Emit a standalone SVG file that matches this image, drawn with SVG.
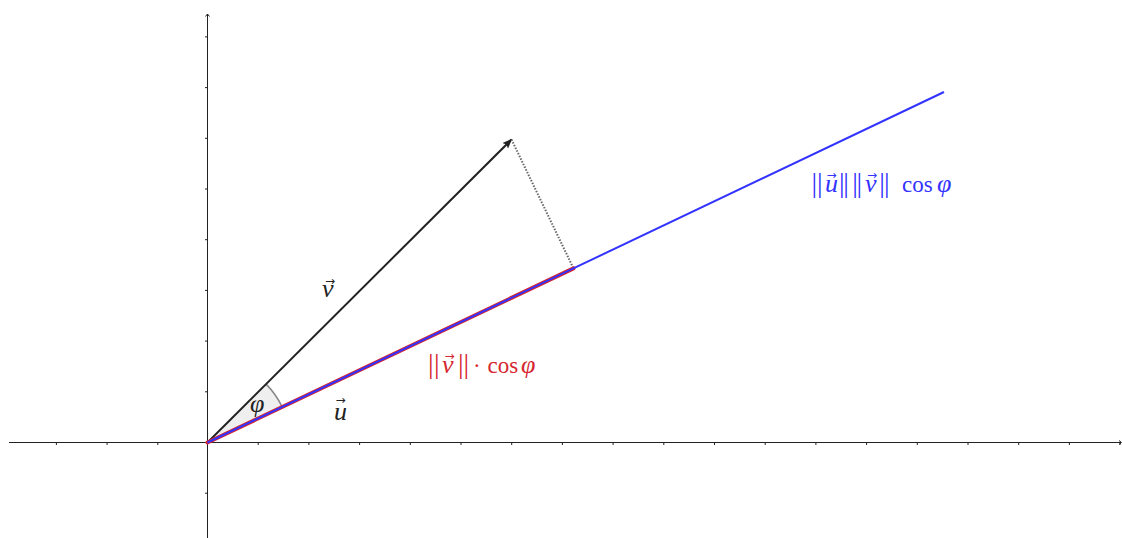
<svg xmlns="http://www.w3.org/2000/svg" width="1122" height="538" viewBox="0 0 1122 538">
<style>
.ax{stroke:#222;stroke-width:1;fill:none}
.tk{stroke:#222;stroke-width:1}
.t{font-family:"Liberation Serif","DejaVu Serif",serif;font-size:23px}
.i{font-style:italic;font-size:26px}
.b{font-size:28px}
.acc{font-family:"DejaVu Sans","Liberation Sans",sans-serif;font-size:12px}
.red{fill:#d6262f}
.blue{fill:#3333ff}
.blk{fill:#222}
</style>
<defs>
<marker id="ah" viewBox="0 0 10 8" refX="9" refY="4" markerWidth="10" markerHeight="8" markerUnits="userSpaceOnUse" orient="auto">
<path d="M0,0 L10,4 L0,8 L2,4 Z" fill="#222"/>
</marker>
</defs>
<rect width="1122" height="538" fill="#fff"/>
<g id="axes">
<line class="ax" x1="9" y1="442.5" x2="1121" y2="442.5"/>
<path class="ax" d="M1119,440.5 L1121.5,442.5 L1119,444.5"/>
<line class="ax" x1="207.5" y1="538" x2="207.5" y2="14"/>
<path class="ax" d="M205.5,16.5 L207.5,14 L209.5,16.5"/>
<g id="xticks">
<line class="tk" x1="56.4" y1="442.5" x2="56.4" y2="445"/>
<line class="tk" x1="107.1" y1="442.5" x2="107.1" y2="445"/>
<line class="tk" x1="157.8" y1="442.5" x2="157.8" y2="445"/>
<line class="tk" x1="258.2" y1="442.5" x2="258.2" y2="445"/>
<line class="tk" x1="308.9" y1="442.5" x2="308.9" y2="445"/>
<line class="tk" x1="359.6" y1="442.5" x2="359.6" y2="445"/>
<line class="tk" x1="410.3" y1="442.5" x2="410.3" y2="445"/>
<line class="tk" x1="461" y1="442.5" x2="461" y2="445"/>
<line class="tk" x1="511.7" y1="442.5" x2="511.7" y2="445"/>
<line class="tk" x1="562.4" y1="442.5" x2="562.4" y2="445"/>
<line class="tk" x1="613.1" y1="442.5" x2="613.1" y2="445"/>
<line class="tk" x1="663.8" y1="442.5" x2="663.8" y2="445"/>
<line class="tk" x1="714.5" y1="442.5" x2="714.5" y2="445"/>
<line class="tk" x1="765.2" y1="442.5" x2="765.2" y2="445"/>
<line class="tk" x1="815.9" y1="442.5" x2="815.9" y2="445"/>
<line class="tk" x1="866.6" y1="442.5" x2="866.6" y2="445"/>
<line class="tk" x1="917.3" y1="442.5" x2="917.3" y2="445"/>
<line class="tk" x1="968" y1="442.5" x2="968" y2="445"/>
<line class="tk" x1="1018.7" y1="442.5" x2="1018.7" y2="445"/>
<line class="tk" x1="1069.4" y1="442.5" x2="1069.4" y2="445"/>
<line class="tk" x1="1120" y1="442.5" x2="1120" y2="445"/>
</g>
<g id="yticks">
<line class="tk" x1="205" y1="493.2" x2="207.5" y2="493.2"/>
<line class="tk" x1="205" y1="391.8" x2="207.5" y2="391.8"/>
<line class="tk" x1="205" y1="341.1" x2="207.5" y2="341.1"/>
<line class="tk" x1="205" y1="290.4" x2="207.5" y2="290.4"/>
<line class="tk" x1="205" y1="239.7" x2="207.5" y2="239.7"/>
<line class="tk" x1="205" y1="189" x2="207.5" y2="189"/>
<line class="tk" x1="205" y1="138.3" x2="207.5" y2="138.3"/>
<line class="tk" x1="205" y1="87.6" x2="207.5" y2="87.6"/>
<line class="tk" x1="205" y1="36.9" x2="207.5" y2="36.9"/>
</g>
</g>
<g id="angle">
<path d="M207.5,442.5 L282.2,407 A83,83 0 0 0 266.1,384.1 Z" fill="#e8e8e8" fill-opacity="0.7"/>
<path d="M282.2,407 A83,83 0 0 0 266.1,384.1" fill="none" stroke="#888" stroke-width="1.5"/>
</g>
<g id="connectors">
<line x1="207.5" y1="442.5" x2="511.5" y2="139.5" stroke="#222" stroke-width="2" marker-end="url(#ah)"/>
<line x1="511.5" y1="139.5" x2="573.5" y2="268.4" stroke="#666" stroke-width="2" stroke-dasharray="1.5 1.5"/>
<line x1="207.5" y1="442.5" x2="573.5" y2="268.4" stroke="#d6262f" stroke-width="4" stroke-linecap="round"/>
<line x1="207.5" y1="442.5" x2="944" y2="92" stroke="#3333ff" stroke-width="2"/>
</g>
<g id="label-phi">
<text class="t i blk" x="250" y="412">φ</text>
</g>
<g id="label-v">
<text class="t i blk" x="322" y="297">v</text>
<text class="acc blk" x="325" y="285">→</text>
</g>
<g id="label-u">
<text class="t i blk" x="334" y="420">u</text>
<text class="acc blk" x="335.5" y="404">→</text>
</g>
<g id="label-red">
<text class="t red" y="373"><tspan class="b" x="428.1">|</tspan><tspan class="b" x="434.1">|</tspan><tspan x="442" class="i">v</tspan><tspan class="b" x="458.1">|</tspan><tspan class="b" x="463.4">|</tspan><tspan x="473">·</tspan><tspan x="487.5">cos</tspan><tspan x="521" class="i">φ</tspan></text>
<text class="acc red" x="444.5" y="360">→</text>
</g>
<g id="label-blue">
<text class="t blue" y="192"><tspan class="b" x="811.5">|</tspan><tspan class="b" x="816.9">|</tspan><tspan x="825" class="i">u</tspan><tspan class="b" x="838.9">|</tspan><tspan class="b" x="843.2">|</tspan><tspan class="b" x="852.2">|</tspan><tspan class="b" x="856.5">|</tspan><tspan x="865" class="i">v</tspan><tspan class="b" x="879.2">|</tspan><tspan class="b" x="884">|</tspan><tspan x="902">cos</tspan><tspan x="937" class="i">φ</tspan></text>
<text class="acc blue" x="826.5" y="179">→</text>
<text class="acc blue" x="867" y="179">→</text>
</g>
</svg>
